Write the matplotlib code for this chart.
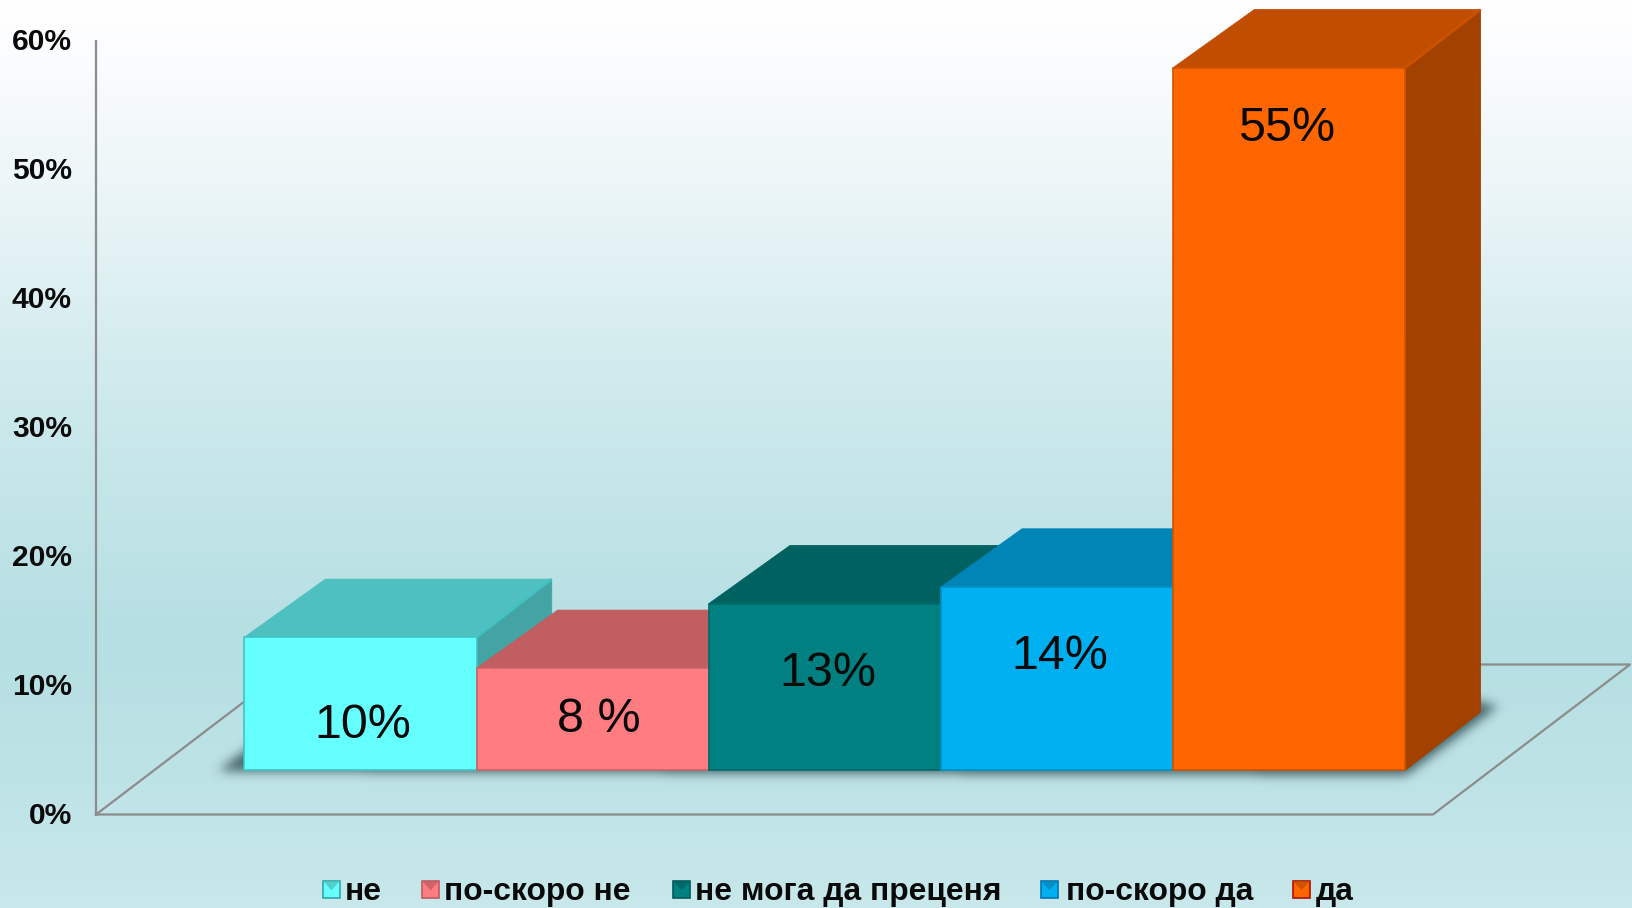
import numpy as np
import matplotlib
matplotlib.use('Agg')
import matplotlib.pyplot as plt
from matplotlib.patches import Polygon, Rectangle
from matplotlib.path import Path

plt.rcParams['font.family'] = ['Liberation Sans', 'DejaVu Sans']

# data
categories = ['не', 'по-скоро не', 'не мога да преценя', 'по-скоро да', 'да']
heights = [10.3, 7.9, 12.9, 14.2, 54.45]
value_labels = ['10%', '8 %', '13%', '14%', '55%']
ticks = [0, 10, 20, 30, 40, 50, 60]

# colours per bar
front_colors = ['#66FFFF', '#FF7C80', '#008080', '#00B0F0', '#FF6600']
top_colors = ['#4EC0C0', '#C15E61', '#006161', '#0085B6', '#C14D00']
side_colors = ['#44A3A3', '#A85053', '#005454', '#00739E', '#A34100']
edge_colors = ['#3FC4C4', '#C96468', '#006A6A', '#0090C4', '#D05300']
marker_edges = ['#2FA8A8', '#C05A5E', '#005C5C', '#0077B0', '#B01000']

# layout, all in pixels of the 1633x908 canvas
W, H = 1633, 908
X0, BAR_W = 244.5, 232.2     # left of first bar, bar width
Y0, UNIT = 770.0, 12.9       # bar base, pixels per percent
DEPTH_L, DEPTH_R, DEPTH_Y = 81, 75, 58  # bar depth, left and right edge of the top
FLOOR_X, FLOOR_Y = 197, 150  # floor depth
AXIS_X, AXIS_Y0 = 96, 814.5
label_dx = [0.508, 0.527, 0.512, 0.51, 0.49]
label_y = [3.45, 3.9, 7.45, 8.77, 49.7]
legend_text_x = [345, 444, 695, 1066, 1316]
legend_box_x = [323, 422, 673, 1041, 1293]


def px(v):
    return (v - X0) / BAR_W


def py(v):
    return (Y0 - v) / UNIT


fig = plt.figure(figsize=(W / 100, H / 100), dpi=100)
ax = fig.add_axes([0, 0, 1, 1])
ax.set_xlim(px(0), px(W))
ax.set_ylim(py(H), py(0))
ax.axis('off')

# background gradient
rows = np.arange(H)
stops_y = [0, 60, 200, 400, 640, 780, 908]
stops_c = np.array([[255, 255, 255], [251, 252, 254], [234, 245, 247],
                    [205, 233, 236], [181, 223, 227], [190, 227, 230], [200, 232, 235]]) / 255
grad = np.stack([np.interp(rows, stops_y, stops_c[:, c]) for c in range(3)], axis=1)[:, None, :]
ax.imshow(grad, extent=(px(0), px(W), py(H), py(0)), aspect='auto', zorder=0)

# floor and value axis
line_c = '#8C8C8C'
floor = [(AXIS_X, AXIS_Y0), (AXIS_X + 1337, AXIS_Y0), (AXIS_X + 1337 + FLOOR_X, AXIS_Y0 - FLOOR_Y),
         (AXIS_X + FLOOR_X, AXIS_Y0 - FLOOR_Y)]
fx = [px(p[0]) for p in floor] + [px(floor[0][0])]
fy = [py(p[1]) for p in floor] + [py(floor[0][1])]
ax.plot(fx, fy, color=line_c, lw=1.6, zorder=1)
ax.plot([px(AXIS_X)] * 2, [py(AXIS_Y0), py(AXIS_Y0 - 60 * UNIT)], color=line_c, lw=1.6, zorder=1)

for t in ticks:
    ax.text(px(72), py(AXIS_Y0 + 1.5 - t * UNIT), f'{t}%', ha='right', va='center',
            fontsize=21.6, fontweight='bold', color='#0A0A0A', zorder=5)

# soft shadow under the bars: blur a polygon mask
shadow = [(218, 771), (1406, 775), (1498, 706), (1470, 700), (292, 716)]
gx, gy = np.meshgrid(np.arange(W) + 0.5, np.arange(H) + 0.5)
mask = Path(shadow).contains_points(np.c_[gx.ravel(), gy.ravel()]).reshape(H, W).astype(float)
kernel = np.exp(-0.5 * (np.arange(-15, 16) / 5.5) ** 2)
kernel /= kernel.sum()
mask = np.apply_along_axis(lambda r: np.convolve(r, kernel, mode='same'), 0, mask)
mask = np.apply_along_axis(lambda r: np.convolve(r, kernel, mode='same'), 1, mask)
rgba = np.zeros((H, W, 4))
rgba[..., :3] = np.array([58, 88, 94]) / 255
rgba[..., 3] = mask * 0.95
ax.imshow(rgba, extent=(px(0), px(W), py(H), py(0)), aspect='auto', zorder=2)
ax.set_xlim(px(0), px(W))
ax.set_ylim(py(H), py(0))

# bars, painted left to right so each front hides the neighbour's side
dl, dr, dy = DEPTH_L / BAR_W, DEPTH_R / BAR_W, DEPTH_Y / UNIT
for i, h in enumerate(heights):
    z = 3 + i * 0.1
    ax.add_patch(Polygon([(i + 1, 0), (i + 1 + dr, dy), (i + 1 + dr, h + dy), (i + 1, h)],
                         facecolor=side_colors[i], edgecolor=side_colors[i], lw=0.6, zorder=z))
    ax.add_patch(Polygon([(i, h), (i + dl, h + dy), (i + 1 + dr, h + dy), (i + 1, h)],
                         facecolor=top_colors[i], edgecolor=top_colors[i], lw=0.6, zorder=z))
    ax.plot([i + 1, i + 1 + dr], [h, h + dy], color=edge_colors[i], lw=2, alpha=0.8,
            solid_capstyle='butt', zorder=z)
    ax.add_patch(Polygon([(i, 0), (i + 1, 0), (i + 1, h), (i, h)],
                         facecolor=front_colors[i], edgecolor=edge_colors[i], lw=1.2, zorder=z))
    ax.text(i + label_dx[i], label_y[i], value_labels[i], ha='center', va='center',
            fontsize=34.8, color='#0A0A0A', zorder=6)

# legend with small bevelled boxes
box = 17
for i, name in enumerate(categories):
    bx = legend_box_x[i]
    by = 881
    ax.add_patch(Rectangle((px(bx), py(by + box)), box / BAR_W, box / UNIT,
                           facecolor=front_colors[i], edgecolor=marker_edges[i], lw=1.2, zorder=5))
    ax.add_patch(Polygon([(px(bx), py(by)), (px(bx + box), py(by)), (px(bx + box / 2), py(by + box * 0.55))],
                         facecolor=top_colors[i], edgecolor='none', alpha=0.75, zorder=5))
    ax.text(px(legend_text_x[i]), py(892), name, ha='left', va='center',
            fontsize=22.9, fontweight='bold', color='#0A0A0A', zorder=5)

fig.savefig('out.png', dpi=100)
